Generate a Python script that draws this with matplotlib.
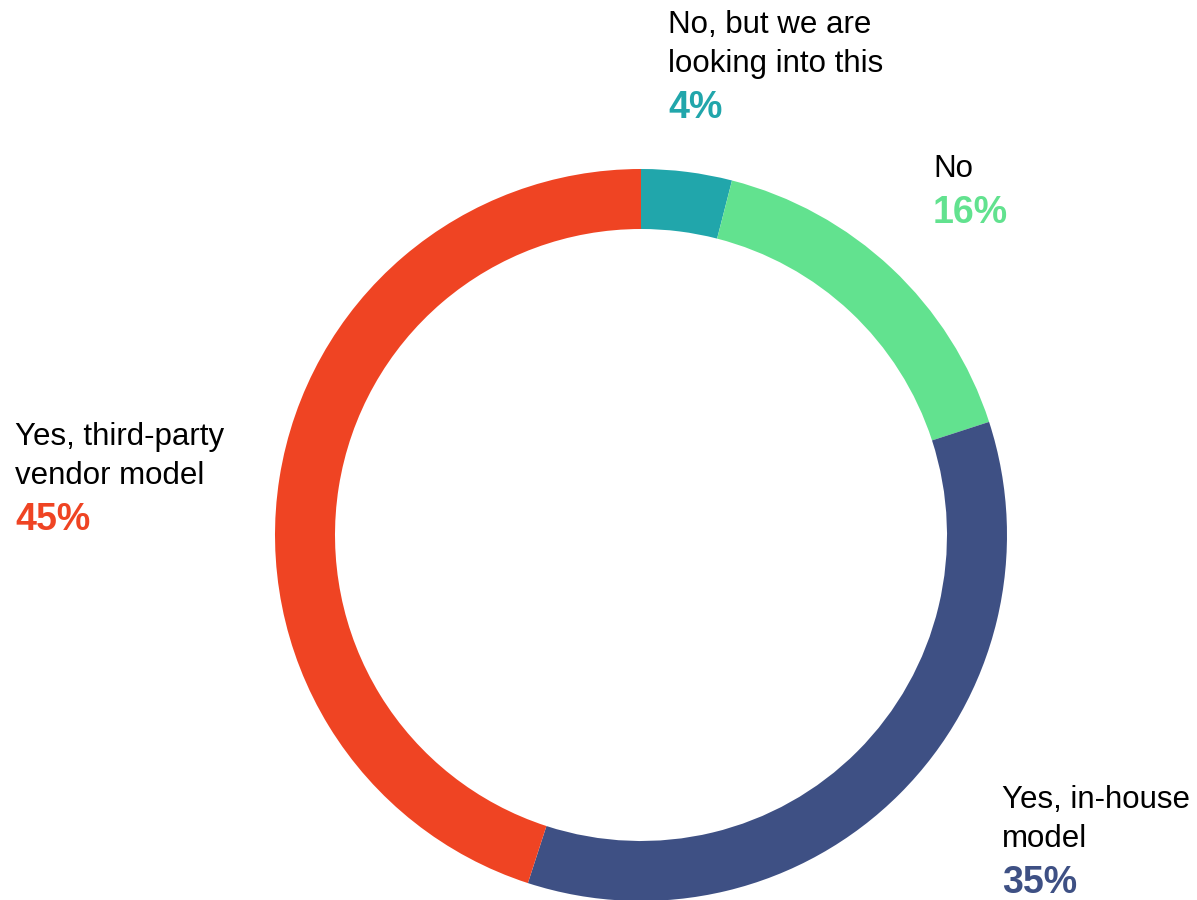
import matplotlib
matplotlib.use("Agg")
import matplotlib.pyplot as plt

# Survey answer shares, clockwise from the top
categories = ["No, but we are looking into this", "No", "Yes, in-house model", "Yes, third-party vendor model"]
shares = [4, 16, 35, 45]
colors = ["#21A6AB", "#62E28F", "#3E5084", "#EF4423"]

# Label lines per category
label_lines = [
    ["No, but we are", "looking into this"],
    ["No"],
    ["Yes, in-house", "model"],
    ["Yes, third-party", "vendor model"],
]

W, H = 1197, 900
fig = plt.figure(figsize=(W / 100, H / 100), dpi=100)
ax = fig.add_axes([0, 0, 1, 1])
ax.set_xlim(0, W)
ax.set_ylim(0, H)
ax.set_aspect("equal")
ax.axis("off")

ax.pie(shares, colors=colors, startangle=90, counterclock=False,
       center=(641, H - 535), radius=366,
       wedgeprops=dict(width=60, linewidth=0))
ax.set_xlim(0, W)
ax.set_ylim(0, H)

font = "Liberation Sans"
# (left x, first baseline y) in pixels from top-left
anchors = [(668, 33), (933, 177), (1002, 808), (15, 445)]
line_gap = 39
pct_gap = 46

for lines, share, color, (x, y0) in zip(label_lines, shares, colors, anchors):
    y = y0
    for i, line in enumerate(lines):
        ax.text(x, H - y, line, fontsize=22.5, family=font, color="black",
                ha="left", va="baseline")
        if i < len(lines) - 1:
            y += line_gap
    y += pct_gap
    ax.text(x, H - y, f"{share}%", fontsize=27, family=font, color=color,
            fontweight="bold", ha="left", va="baseline")

fig.savefig("out.png", dpi=100)
